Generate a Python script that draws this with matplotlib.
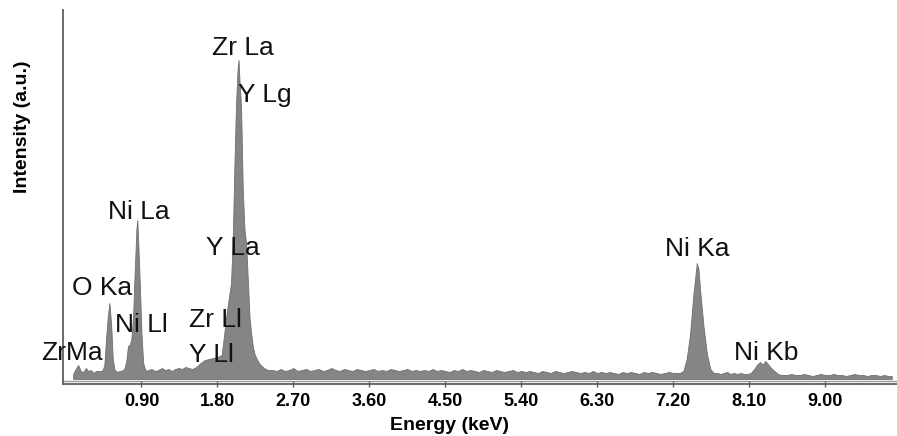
import numpy as np
import matplotlib
matplotlib.use("Agg")
import matplotlib.pyplot as plt

plt.rcParams["font.family"] = ["Liberation Sans", "DejaVu Sans"]

# ---- EDS spectrum, read channel by channel (energy in keV, counts in a.u.) ----
low_energy = [0.09, 0.12, 0.15, 0.18, 0.21, 0.24, 0.27, 0.30, 0.33, 0.36, 0.40]
low_counts = [5, 10, 14, 8, 7, 11, 8, 9, 6, 8, 8]

o_ni_energy = [0.42, 0.44, 0.46, 0.48, 0.50, 0.52, 0.54, 0.56, 0.58, 0.60, 0.62,
               0.64, 0.66, 0.68, 0.70, 0.72, 0.74, 0.76, 0.78, 0.80, 0.82, 0.84,
               0.85, 0.86, 0.88, 0.90, 0.92, 0.94, 0.96]
o_ni_counts = [8, 9, 14, 40, 62, 76, 55, 20, 9, 8, 7,
               8, 8, 9, 11, 18, 33, 34, 40, 62, 108, 150,
               159, 140, 95, 45, 16, 10, 8]

bg1_energy = [0.98, 1.02, 1.06, 1.10, 1.14, 1.18, 1.22, 1.26, 1.30, 1.34, 1.38, 1.42, 1.46]
bg1_counts = [9, 10, 8, 9, 11, 9, 10, 8, 10, 11, 10, 12, 11]

zr_y_energy = [1.50, 1.55, 1.60, 1.65, 1.70, 1.75, 1.80, 1.85, 1.88, 1.90, 1.92,
               1.94, 1.96, 1.98, 2.00, 2.02, 2.04, 2.05, 2.06, 2.08, 2.10, 2.12,
               2.14, 2.16, 2.18, 2.20, 2.22, 2.24, 2.26, 2.30, 2.35, 2.40]
zr_y_counts = [10, 12, 16, 19, 20, 21, 22, 24, 45, 60, 72,
               84, 95, 135, 210, 275, 312, 319, 300, 272, 190, 150,
               135, 99, 62, 45, 32, 25, 21, 15, 11, 9]

bg2_energy = [2.45, 2.50, 2.55, 2.60, 2.65, 2.70, 2.75, 2.80, 2.85, 2.90, 2.95, 3.00,
              3.05, 3.10, 3.15, 3.20, 3.25, 3.30, 3.35, 3.40, 3.45, 3.50, 3.55, 3.60,
              3.65, 3.70, 3.75, 3.80, 3.85, 3.90, 3.95, 4.00, 4.05, 4.10, 4.15, 4.20,
              4.25, 4.30, 4.35, 4.40, 4.45, 4.50, 4.55, 4.60, 4.65, 4.70, 4.75, 4.80,
              4.85, 4.90, 4.95, 5.00, 5.05, 5.10, 5.15, 5.20, 5.25, 5.30, 5.35, 5.40,
              5.45, 5.50, 5.55, 5.60, 5.65, 5.70, 5.75, 5.80, 5.85, 5.90, 5.95, 6.00,
              6.05, 6.10, 6.15, 6.20, 6.25, 6.30, 6.35, 6.40, 6.45, 6.50, 6.55, 6.60,
              6.65, 6.70, 6.75, 6.80, 6.85, 6.90, 6.95, 7.00, 7.05, 7.10, 7.15, 7.20, 7.25]
bg2_counts = [9, 8, 10, 8, 9, 11, 8, 9, 10, 8, 9, 10,
              8, 9, 11, 9, 8, 10, 9, 8, 10, 9, 8, 9,
              10, 8, 9, 8, 10, 9, 8, 9, 10, 8, 9, 8,
              9, 8, 10, 8, 9, 8, 7, 9, 8, 10, 8, 9,
              8, 7, 9, 8, 7, 9, 8, 7, 8, 9, 7, 8,
              7, 8, 7, 6, 8, 7, 6, 8, 7, 6, 7, 8,
              7, 6, 7, 6, 8, 6, 7, 6, 7, 6, 5, 7,
              6, 7, 6, 5, 7, 6, 7, 6, 5, 6, 7, 6, 6]

ni_ka_energy = [7.28, 7.32, 7.36, 7.40, 7.44, 7.48, 7.50, 7.52, 7.56, 7.60, 7.64, 7.68]
ni_ka_counts = [6, 8, 20, 45, 85, 116, 110, 88, 52, 25, 10, 6]

bg3_energy = [7.72, 7.76, 7.80, 7.84, 7.88, 7.92, 7.96, 8.00, 8.04, 8.08]
bg3_counts = [6, 5, 6, 7, 5, 6, 5, 6, 5, 5]

ni_kb_energy = [8.12, 8.16, 8.20, 8.23, 8.26, 8.29, 8.32, 8.36, 8.40, 8.44, 8.48]
ni_kb_counts = [6, 10, 15, 17, 14, 18, 15, 11, 8, 5, 4]

bg4_energy = [8.55, 8.60, 8.65, 8.70, 8.75, 8.80, 8.85, 8.90, 8.95, 9.00, 9.05, 9.10, 9.15,
              9.20, 9.25, 9.30, 9.35, 9.40, 9.45, 9.50, 9.55, 9.60, 9.65, 9.70, 9.75, 9.79]
bg4_counts = [4, 5, 4, 4, 5, 4, 3, 4, 5, 4, 4, 5, 4,
              4, 3, 4, 5, 4, 4, 3, 4, 4, 3, 4, 3, 3]

# ---- peak labels: (text, energy keV, baseline counts) ----
peak_labels = ["Zr La", "Y Lg", "Ni La", "Y La", "O Ka", "Ni Ll",
               "Zr Ll", "Y Ll", "ZrMa", "Ni Ka", "Ni Kb"]
label_energy = [2.10, 2.36, 0.87, 1.98, 0.43, 0.90, 1.78, 1.73, 0.07, 7.49, 8.30]
label_counts = [324, 277, 160, 124, 84, 47, 52, 17, 19, 123, 19]

tick_values = [0.90, 1.80, 2.70, 3.60, 4.50, 5.40, 6.30, 7.20, 8.10, 9.00]

energy = np.concatenate([low_energy, o_ni_energy, bg1_energy, zr_y_energy, bg2_energy,
                         ni_ka_energy, bg3_energy, ni_kb_energy, bg4_energy])
counts = np.concatenate([low_counts, o_ni_counts, bg1_counts, zr_y_counts, bg2_counts,
                         ni_ka_counts, bg3_counts, ni_kb_counts, bg4_counts])

W, H = 897, 436
fig = plt.figure(figsize=(W / 100, H / 100), dpi=100)
ax = fig.add_axes([63 / W, 52 / H, (W - 63) / W, 374 / H])

ax.fill_between(energy, 0, counts, facecolor="#858585", edgecolor="#6f6f6f",
                linewidth=0.6, zorder=2)

ax.set_xlim(-0.03, 9.852)
ax.set_ylim(-5, 369)

# double rule along the energy axis
ax.axhline(-1.5, color="#9a9a9a", linewidth=1.0, zorder=1)

for side in ("top", "right"):
    ax.spines[side].set_visible(False)
for side in ("left", "bottom"):
    ax.spines[side].set_color("#5f5f5f")
    ax.spines[side].set_linewidth(1.3)

ax.set_yticks([])
ax.set_xticks(tick_values)
ax.set_xticklabels([f"{v:.2f}" for v in tick_values], fontsize=13, fontweight="bold")
ax.tick_params(axis="x", direction="inout", length=5, width=1, color="#5f5f5f", pad=4)

ax.set_xlabel("Energy (keV)", fontsize=14, fontweight="bold")
ax.xaxis.label.set_va("center")
ax.xaxis.set_label_coords(0.463, -0.112)
ax.set_ylabel("Intensity (a.u.)", fontsize=14, fontweight="bold")
ax.yaxis.label.set_va("center")
ax.yaxis.set_label_coords(-0.049, 0.687)

for txt, e, c in zip(peak_labels, label_energy, label_counts):
    ax.text(e, c, txt, fontsize=19, ha="center", va="baseline", color="#111111", zorder=3)

fig.savefig("out.png", dpi=100)
